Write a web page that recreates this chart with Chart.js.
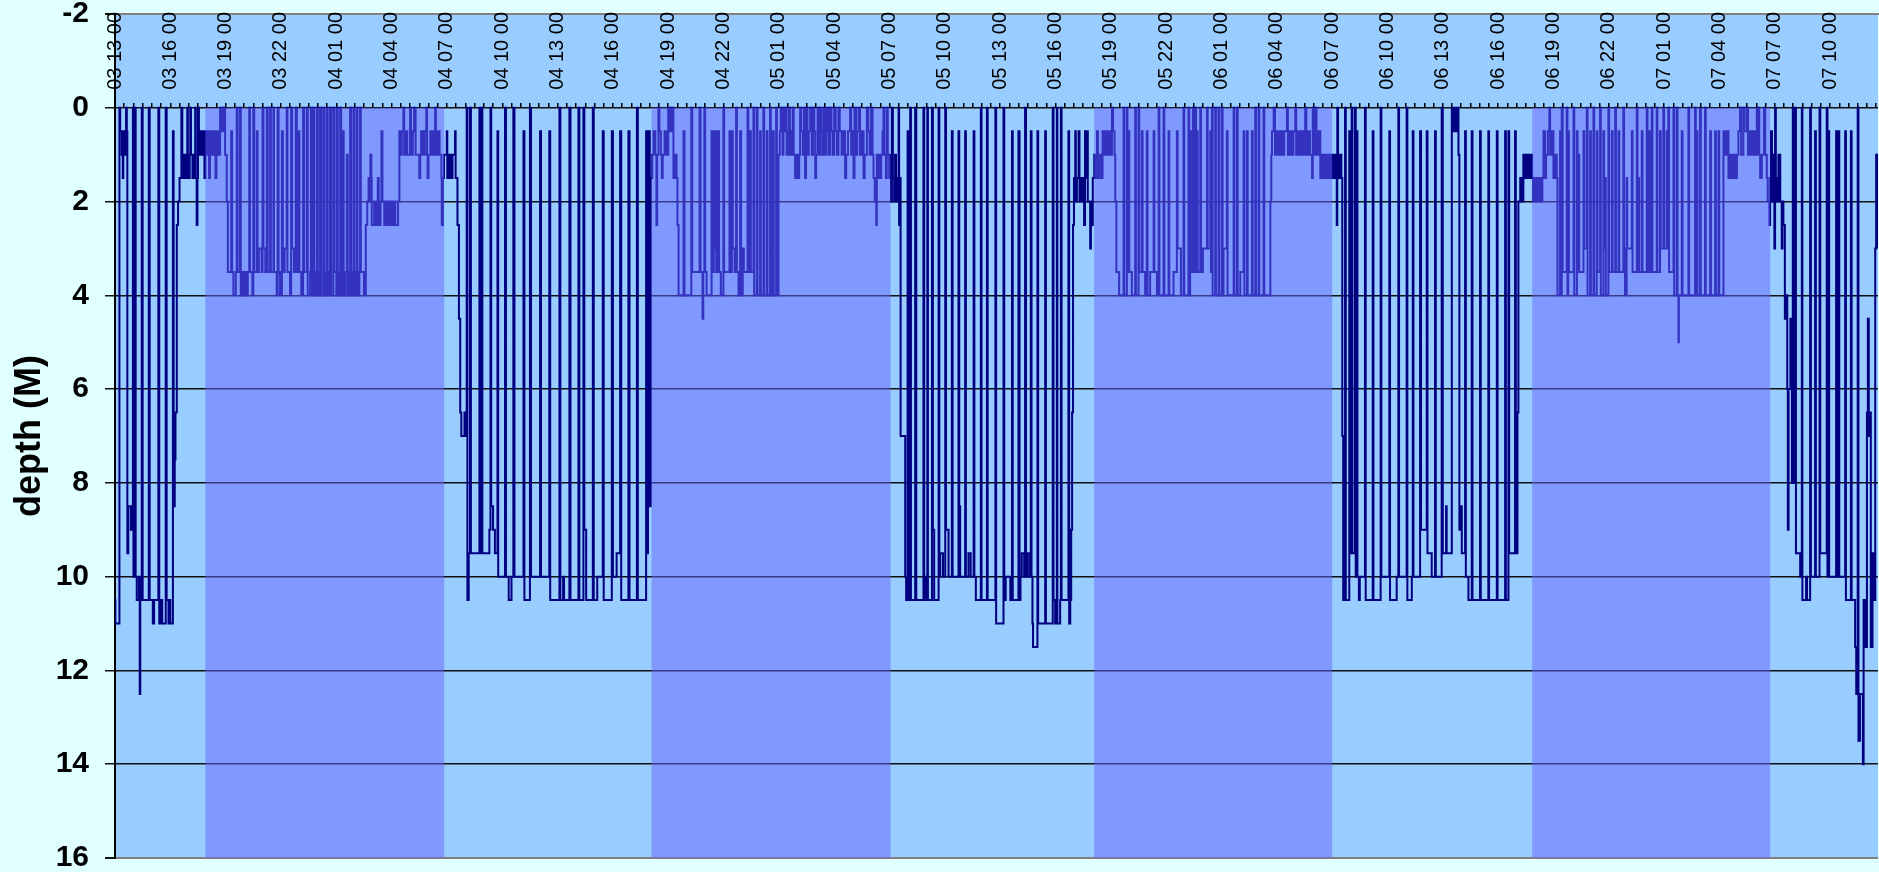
<!DOCTYPE html>
<html>
<head>
<meta charset="utf-8">
<title>depth profile</title>
<script src="https://cdn.jsdelivr.net/npm/chart.js@4/dist/chart.umd.min.js"></script>
<style>
  html, body { margin: 0; padding: 0; background: #e0ffff; overflow: hidden; }
  canvas { display: block; }
</style>
</head>
<body>
<canvas id="chart-depth" width="1879" height="872"></canvas>
<script>
// hours are counted from 03 13:00, depth in metres
const timeLabels = [
  '03 13 00', '03 16 00', '03 19 00', '03 22 00', '04 01 00', '04 04 00', '04 07 00', '04 10 00',
  '04 13 00', '04 16 00', '04 19 00', '04 22 00', '05 01 00', '05 04 00', '05 07 00', '05 10 00',
  '05 13 00', '05 16 00', '05 19 00', '05 22 00', '06 01 00', '06 04 00', '06 07 00', '06 10 00',
  '06 13 00', '06 16 00', '06 19 00', '06 22 00', '07 01 00', '07 04 00', '07 07 00', '07 10 00'
];
const depthTicks = [-2, 0, 2, 4, 6, 8, 10, 12, 14, 16];

// night shading (start / end hour)
const nightStart = [4.9, 29.1, 53.1, 76.85];
const nightEnd = [17.85, 42.05, 66.0, 89.75];

// ── depth records [hour, depth] ──
const day03 = [
  [0,10.5],[0.02,11],[0.24,0],[0.28,0.5],[0.36,1],[0.42,1.5],[0.45,0.5],[0.5,1],[0.56,0.5],[0.6,0],
  [0.64,0.5],[0.67,9.5],[0.72,8.5],[0.86,9],[0.92,8.5],[0.97,0],[1.0,10],[1.08,0],[1.12,10],[1.18,10.5],
  [1.3,10],[1.34,12.5],[1.37,10.5],[1.45,0],[1.5,10.5],[1.83,0],[1.88,10.5],[2.05,11],[2.12,10.5],[2.35,0],
  [2.4,11],[2.5,10.5],[2.56,11],[2.75,0],[2.8,10.5],[2.9,11],[2.95,10.5],[3.0,11],[3.14,0.5],[3.18,8.5],
  [3.24,7.5],[3.28,6.5],[3.35,2.5],[3.42,2],[3.5,1.5],[3.6,0],[3.65,1.5],[3.75,1],[3.85,1.5],[3.92,0],
  [3.95,1.5],[4.05,1],[4.08,0],[4.12,1],[4.2,1.5],[4.3,1],[4.35,0],[4.38,1.5],[4.43,2.5],[4.47,1.5],
  [4.5,0],[4.55,1],[4.62,0.5],[4.7,1],[4.8,0.5],[4.85,1.5]
];
const night0304 = [
  [4.9,0.5],[5.0,1],[5.05,0.5],[5.1,1.5],[5.15,0.5],[5.25,1],[5.35,0.5],[5.45,1.5],[5.5,0.5],[5.6,1],
  [5.7,0],[5.8,0.5],[5.88,0],[5.97,1],[6.06,2],[6.12,3.5],[6.3,0.5],[6.35,3.5],[6.42,4],[6.55,3.5],
  [6.6,0],[6.65,3.5],[6.78,0],[6.82,4],[6.9,3.5],[6.98,4],[7.05,3.5],[7.1,4],[7.2,3.5],[7.28,0],
  [7.32,3.5],[7.45,4],[7.5,0],[7.55,3.5],[7.69,0.5],[7.73,3.5],[7.8,3],[7.95,3.5],[8.0,0],[8.05,3],
  [8.15,3.5],[8.23,0],[8.28,3.5],[8.41,0],[8.45,3.5],[8.59,0],[8.62,3.5],[8.77,4],[8.82,0],[8.87,3.5],
  [8.95,4],[9.05,0.5],[9.1,3.5],[9.2,3],[9.31,0],[9.35,3.5],[9.49,4],[9.55,0],[9.6,3],[9.7,3.5],
  [9.8,0],[9.86,3.5],[9.95,0.5],[10.0,3.5],[10.1,4],[10.2,0],[10.25,3.5],[10.4,0],[10.45,4],[10.58,3.5],
  [10.62,0],[10.68,4],[10.76,0],[10.8,4],[10.9,3.5],[10.94,0],[11.0,4],[11.08,3.5],[11.12,0],[11.18,4],
  [11.3,0],[11.35,4],[11.45,3.5],[11.48,0],[11.53,4],[11.62,3.5],[11.66,0],[11.72,4],[11.84,0],[11.9,3.5],
  [12.0,4],[12.03,0],[12.08,4],[12.18,3.5],[12.21,0],[12.26,4],[12.35,0.5],[12.4,4],[12.5,3.5],[12.57,1],
  [12.62,4],[12.72,3.5],[12.75,0],[12.8,4],[12.9,3.5],[12.93,0],[12.98,4],[13.08,3.5],[13.11,0],[13.15,4],
  [13.25,3.5],[13.29,0],[13.33,3.5],[13.5,4],[13.6,2.5],[13.68,2],[13.75,1.5],[13.8,2],[13.85,1],[13.9,1.5],
  [13.92,2.5],[14.05,2],[14.1,2.5],[14.2,2],[14.25,1.5],[14.3,2.5],[14.4,2],[14.45,0.5],[14.5,2],[14.6,2.5],
  [14.7,2],[14.8,2.5],[14.9,2],[15.0,2.5],[15.1,2],[15.2,2.5],[15.35,2],[15.42,0.5],[15.5,1],[15.55,0.5],
  [15.64,0],[15.68,1],[15.75,0.5],[15.85,1],[16.0,0],[16.05,1],[16.15,0.5],[16.22,0],[16.3,1],[16.5,1.5],
  [16.55,1],[16.6,0.5],[16.7,1],[16.8,0.5],[16.88,0],[16.92,1],[16.95,1.5],[17.0,1],[17.1,0.5],[17.2,1],
  [17.3,0.5],[17.36,0],[17.4,1],[17.5,0.5],[17.6,1],[17.7,1.5],[17.72,2.5],[17.78,1.5]
];
const day04 = [
  [17.84,1],[17.99,0.5],[18.02,1.5],[18.1,1],[18.2,1.5],[18.3,1],[18.44,0.5],[18.47,1.5],[18.57,2.5],[18.65,4.5],
  [18.72,6.5],[18.78,7],[18.95,6.5],[19.0,7],[19.07,0],[19.11,10.5],[19.18,9.5],[19.25,0],[19.3,9.5],[19.76,0],
  [19.8,9.5],[19.86,0],[19.92,9.5],[20.3,9],[20.36,0],[20.4,8.5],[20.5,9],[20.6,9.5],[20.74,0.5],[20.78,10],
  [21.15,0],[21.2,10],[21.35,10.5],[21.5,10],[21.6,0],[21.66,10],[22.15,0.5],[22.2,10.5],[22.5,0],[22.56,10],
  [23.05,0.5],[23.1,10],[23.55,0.5],[23.6,10.5],[24.1,0],[24.15,10.5],[24.3,10],[24.35,10.5],[24.64,0],[24.7,10.5],
  [25.13,0],[25.18,10.5],[25.4,0],[25.45,9],[25.55,10.5],[25.91,0],[25.96,10.5],[26.15,10],[26.45,0.5],[26.5,10.5],
  [26.94,0.5],[27.0,10],[27.2,9.5],[27.39,0.5],[27.45,10.5],[27.84,0.5],[27.9,10.5],[28.3,0],[28.35,10.5],[28.8,0.5],
  [28.85,9.5],[28.9,3],[28.95,0.5],[29.0,8.5],[29.05,1.5]
];
const night0405 = [
  [29.13,1],[29.2,0.5],[29.3,1],[29.36,2.5],[29.4,1],[29.47,0],[29.52,0.5],[29.6,1],[29.65,1.5],[29.7,1],
  [29.8,0.5],[29.9,1],[30.0,0],[30.1,0.5],[30.2,0],[30.28,1.5],[30.35,1],[30.45,1.5],[30.5,2.5],[30.56,4],
  [30.83,0.5],[30.88,4],[31.25,0],[31.3,3.5],[31.7,0],[31.75,3.5],[31.86,4.5],[31.9,3.5],[31.96,0],[32.0,3.5],
  [32.08,4],[32.35,0.5],[32.4,3.5],[32.47,0.5],[32.52,3],[32.6,3.5],[32.63,0.5],[32.68,3.5],[32.72,0.5],[32.76,3.5],
  [32.85,4],[32.99,0],[33.03,3.5],[33.32,0.5],[33.36,3.5],[33.45,0.5],[33.5,3],[33.6,3.5],[33.68,0],[33.72,3.5],
  [33.81,4],[33.9,0.5],[33.95,4],[34.04,3],[34.1,3.5],[34.3,0],[34.34,3.5],[34.44,0.5],[34.48,3.5],[34.62,0],
  [34.66,4],[34.8,0],[34.84,4],[34.98,0.5],[35.02,4],[35.16,0],[35.2,4],[35.34,0.5],[35.38,4],[35.52,0],
  [35.56,4],[35.67,0.5],[35.72,4],[35.85,0],[35.89,4],[35.98,1],[36.05,0.5],[36.1,0],[36.15,0.5],[36.2,1],
  [36.25,0],[36.3,0.5],[36.35,0],[36.42,1],[36.5,0.5],[36.55,0],[36.6,1],[36.7,0.5],[36.75,0],[36.8,1],
  [36.88,1.5],[36.95,1],[37.0,1.5],[37.1,1],[37.15,0],[37.2,0.5],[37.3,1],[37.35,0],[37.42,1.5],[37.47,0.5],
  [37.51,0],[37.55,1],[37.62,0.5],[37.7,0],[37.78,1],[37.85,0],[37.92,0.5],[37.97,1.5],[38.02,1],[38.1,0],
  [38.15,1],[38.24,0],[38.3,0.5],[38.36,1],[38.42,0],[38.5,1],[38.55,0.5],[38.6,0],[38.68,1],[38.78,0],
  [38.85,0.5],[38.92,1],[39.0,0],[39.08,0.5],[39.15,1],[39.23,0],[39.3,0.5],[39.4,1],[39.5,0.5],[39.59,1.5],
  [39.65,1],[39.75,0.5],[39.86,0],[39.92,1],[40.0,0.5],[40.05,1.5],[40.1,0],[40.18,1],[40.25,0.5],[40.32,0],
  [40.4,1],[40.5,0.5],[40.59,1.5],[40.65,1],[40.77,0],[40.85,0.5],[40.92,1],[41.0,0],[41.08,1],[41.13,1.5],
  [41.2,2],[41.28,2.5],[41.31,1],[41.38,1.5],[41.45,1],[41.49,1.5],[41.55,1],[41.62,0.5],[41.67,0],[41.72,1],
  [41.8,1.5],[41.85,0],[41.9,1],[41.98,1.5]
];
const day05 = [
  [42.03,1],[42.08,2],[42.13,0],[42.18,1.5],[42.25,2],[42.3,1],[42.35,2],[42.42,1.5],[42.49,0],[42.52,2.5],
  [42.56,1.5],[42.6,7],[42.85,10],[42.9,10.5],[42.98,0.5],[43.02,10.5],[43.12,0],[43.16,10.5],[43.39,0],[43.45,10.5],
  [43.84,0],[43.88,10.5],[43.95,10],[44.0,10.5],[44.05,0],[44.08,10.5],[44.3,0],[44.35,9],[44.42,10.5],[44.66,0],
  [44.7,10],[44.75,9.5],[44.9,10],[45.02,0],[45.06,9],[45.2,10],[45.38,0.5],[45.42,10],[45.74,0.5],[45.78,8.5],
  [45.83,10],[46.1,0.5],[46.14,10],[46.28,9.5],[46.4,10],[46.56,0.5],[46.6,10],[46.68,10.5],[46.95,0],[46.99,10.5],
  [47.28,0],[47.32,10.5],[47.74,0],[47.78,11],[48.18,0],[48.22,10.5],[48.3,10],[48.55,10.5],[48.64,0.5],[48.68,10.5],
  [48.99,0.5],[49.05,10.5],[49.1,10],[49.17,9.5],[49.3,10],[49.35,0],[49.4,10],[49.5,9.5],[49.62,10],[49.66,0.5],
  [49.7,10],[49.75,11],[49.78,11.5],[50.02,0.5],[50.06,11],[50.44,0.5],[50.48,11],[50.85,0],[50.89,10.5],[50.98,11],
  [51.07,0],[51.1,11],[51.25,10.5],[51.29,0],[51.33,10.5],[51.7,0.5],[51.74,11],[51.8,10.5],[51.85,9],[51.9,6.5],
  [51.95,2.5],[52.0,1.5],[52.07,0.5],[52.1,2],[52.16,1.5],[52.25,0.5],[52.3,2],[52.4,1.5],[52.5,2],[52.55,2.5],
  [52.6,0.5],[52.65,1.5],[52.7,0.5],[52.75,2],[52.88,3],[52.92,2],[52.97,2.5],[53.02,1.5]
];
const night0506 = [
  [53.1,1],[53.15,1.5],[53.25,0.5],[53.3,1.5],[53.4,1],[53.51,1.5],[53.55,0.5],[53.65,1],[53.7,0.5],[53.8,1],
  [53.9,0.5],[54.0,1],[54.06,0],[54.12,0.5],[54.2,1],[54.24,2],[54.3,3.5],[54.45,4],[54.69,0],[54.73,4],
  [54.87,0],[54.9,3.5],[54.96,0.5],[55.0,3.5],[55.14,4],[55.32,0],[55.36,4],[55.5,0],[55.54,3.5],[55.68,0.5],
  [55.72,3.5],[55.86,4],[55.95,0.5],[55.99,4],[56.13,3.5],[56.32,0.5],[56.36,3.5],[56.5,4],[56.59,0],[56.63,4],
  [56.86,0],[56.9,4],[57.13,0.5],[57.17,4],[57.4,3.5],[57.58,0.5],[57.62,3],[57.8,4],[57.94,0],[57.98,4],
  [58.21,0],[58.25,4],[58.3,0.5],[58.34,3.5],[58.45,0],[58.49,3.5],[58.58,0],[58.62,3.5],[58.67,0.5],[58.71,3.5],
  [58.85,0],[58.89,3.5],[58.99,3],[59.21,0],[59.25,3],[59.39,0.5],[59.43,3.5],[59.48,0],[59.52,4],[59.66,0],
  [59.7,4],[59.84,0],[59.88,4],[60.02,0],[60.06,4],[60.11,3],[60.29,0.5],[60.33,4],[60.66,0],[60.7,4],
  [60.84,0],[60.88,4],[61.02,3.5],[61.2,0.5],[61.24,4],[61.38,0.5],[61.42,4],[61.65,0.5],[61.69,4],[61.83,0],
  [61.87,4],[62.01,0],[62.05,4],[62.28,0],[62.32,4],[62.65,2],[62.7,1],[62.74,0.5],[62.83,0],[62.9,1],
  [63.0,0.5],[63.1,1],[63.2,0.5],[63.3,1],[63.4,0.5],[63.55,0],[63.6,1],[63.7,0.5],[63.8,1],[63.9,0.5],
  [64.0,0],[64.05,1],[64.15,0.5],[64.25,1],[64.35,0.5],[64.45,1],[64.54,0],[64.6,1],[64.7,0.5],[64.8,1],
  [64.91,1.5],[64.95,0],[65.0,1],[65.09,0],[65.15,1],[65.25,0.5],[65.36,1.5],[65.45,1],[65.55,1.5],[65.65,1],
  [65.75,1.5],[65.85,1],[65.95,1.5]
];
const day06 = [
  [66.0,1],[66.1,1.5],[66.2,1],[66.25,2.5],[66.28,0],[66.32,1.5],[66.4,1],[66.5,1.5],[66.55,7],[66.6,10.5],
  [66.7,0],[66.74,10.5],[66.93,0.5],[66.97,9.5],[67.06,0],[67.1,9.5],[67.24,0],[67.28,10],[67.33,0.5],[67.37,10],
  [67.45,10.5],[67.5,10],[67.78,0],[67.82,10.5],[68.2,0.5],[68.24,10.5],[68.63,0],[68.67,10],[69.1,0.5],[69.14,10.5],
  [69.5,10],[69.59,0],[69.63,10],[70.04,0],[70.08,10.5],[70.32,10],[70.37,0.5],[70.41,10],[70.77,0.5],[70.82,9],
  [71.13,0.5],[71.17,9.5],[71.4,10],[71.58,0.5],[71.62,10],[71.94,0],[72.0,9.5],[72.18,8.5],[72.21,9.5],[72.49,0],
  [72.55,0.5],[72.6,0],[72.7,0.5],[72.8,0],[72.85,1],[72.9,9],[72.94,8.5],[73.03,9.5],[73.21,0.5],[73.25,10],
  [73.39,10.5],[73.57,0.5],[73.61,10.5],[74.02,0.5],[74.06,10.5],[74.47,0.5],[74.51,10.5],[74.93,0.5],[74.97,10.5],[75.38,0.5],
  [75.42,10.5],[75.56,0.5],[75.6,9.5],[75.92,0.5],[75.96,9.5],[76.05,6.5],[76.1,2],[76.2,1.5],[76.28,2],[76.37,1],
  [76.45,1.5],[76.55,1],[76.65,1.5],[76.75,1]
];
const night0607 = [
  [76.84,1.5],[76.9,2],[77.0,1.5],[77.1,2],[77.2,1.5],[77.3,2],[77.4,1.5],[77.46,0.5],[77.55,1.5],[77.6,1],
  [77.7,0.5],[77.78,0],[77.82,1],[77.9,0.5],[78.0,1.5],[78.1,1],[78.18,1.5],[78.22,4],[78.36,0.5],[78.4,4],
  [78.45,0],[78.5,3.5],[78.72,0],[78.76,4],[78.8,0.5],[78.84,3.5],[79.09,0],[79.13,4],[79.27,0.5],[79.31,3.5],
  [79.36,1],[79.4,3.5],[79.63,0.5],[79.67,3],[79.81,0],[79.85,4],[79.99,0.5],[80.03,4],[80.17,0],[80.21,4],
  [80.35,0.5],[80.39,3.5],[80.53,0],[80.57,4],[80.71,0.5],[80.75,3],[80.8,1.5],[80.84,4],[80.98,0],[81.02,3.5],
  [81.17,0.5],[81.21,3.5],[81.35,0],[81.39,3.5],[81.53,0.5],[81.57,3.5],[81.79,0],[81.83,3],[81.88,4],[81.97,1.5],
  [82.0,3],[82.25,0.5],[82.29,3.5],[82.52,0],[82.56,3.5],[82.61,1.5],[82.65,3.5],[82.79,0.5],[82.83,3.5],[83.06,0],
  [83.1,3.5],[83.2,0.5],[83.24,3.5],[83.33,0],[83.37,3.5],[83.6,0],[83.64,3.5],[83.78,0.5],[83.82,3],[83.96,0],
  [84.0,3],[84.14,0.5],[84.18,3],[84.23,0],[84.27,3.5],[84.51,0],[84.55,4],[84.69,0],[84.73,4],[84.78,5],
  [84.8,4],[84.96,0.5],[85.0,4],[85.32,0],[85.36,4],[85.68,0],[85.72,4],[85.77,0.5],[85.81,4],[85.95,0],
  [85.99,4],[86.22,0],[86.26,4],[86.5,0.5],[86.54,4],[86.77,0.5],[86.81,4],[86.95,0.5],[86.99,4],[87.22,0.5],
  [87.3,1],[87.4,0.5],[87.49,1.5],[87.55,1],[87.65,1.5],[87.75,1],[87.85,1.5],[87.95,1],[88.03,0.5],[88.12,0],
  [88.18,1],[88.3,0],[88.35,0.5],[88.48,0],[88.55,1],[88.65,0.5],[88.75,1],[88.85,0.5],[88.95,1],[89.03,0],
  [89.08,1],[89.12,0],[89.16,1],[89.21,1.5],[89.3,1],[89.42,0],[89.48,1],[89.57,1.5],[89.62,2],[89.71,2.5],
  [89.75,1.5]
];
const day07 = [
  [89.8,0.5],[89.85,2],[89.9,1],[89.98,3],[90.02,0],[90.06,1.5],[90.11,2],[90.2,1],[90.3,2],[90.38,3],
  [90.42,2],[90.47,2.5],[90.55,4.5],[90.62,4],[90.68,6],[90.71,9],[90.75,6],[90.85,4.5],[90.93,8],[90.98,0],
  [91.02,8],[91.11,0],[91.15,9.5],[91.38,10],[91.47,0],[91.5,10.5],[91.7,10],[91.75,10.5],[91.92,0],[91.96,10],
  [92.19,0.5],[92.23,10],[92.43,0],[92.47,9.5],[92.82,0],[92.86,10],[92.91,0.5],[92.95,10],[93.33,0.5],[93.37,10],
  [93.46,0.5],[93.5,10],[93.82,0.5],[93.86,10.5],[94.13,0.5],[94.17,10.5],[94.36,11.5],[94.42,12.5],[94.5,0],[94.54,13.5],
  [94.62,12.5],[94.78,14],[94.82,10.5],[94.9,11.5],[95.0,6.5],[95.05,4.5],[95.1,7],[95.18,6.5],[95.21,11.5],[95.3,9.5],
  [95.36,10.5],[95.45,3],[95.5,1],[95.6,3]
];

const hourMin = 0;
const hourMax = 95.6;

// ── datasets ──

const depthPoints = [...day03, ...night0304, ...day04, ...night0405, ...day05,
  ...night0506, ...day06, ...night0607, ...day07].map(([x, y]) => ({ x, y }));

const nightPoints = [{ x: hourMin, y: 0 }];
nightStart.forEach((s, i) => {
  nightPoints.push({ x: s, y: 16 });
  nightPoints.push({ x: nightEnd[i], y: 0 });
});
nightPoints.push({ x: hourMax, y: 0 });

const plotBackground = {
  id: 'plotBackground',
  beforeDraw(chart) {
    const { ctx, chartArea: a } = chart;
    ctx.save();
    ctx.fillStyle = '#99ccff';
    ctx.fillRect(a.left, a.top, a.right - a.left, a.bottom - a.top);
    ctx.restore();
  }
};

const FONT = "'Liberation Sans', Arial, sans-serif";

new Chart(document.getElementById('chart-depth'), {
  type: 'line',
  data: {
    datasets: [
      {
        // drawn last, sits over the trace like the original
        label: 'night',
        data: nightPoints,
        stepped: true,
        fill: 'origin',
        backgroundColor: 'rgba(102,102,255,0.5)',
        borderColor: 'rgba(0,0,0,0)',
        borderWidth: 1,
        pointRadius: 0,
      },
      {
        label: 'depth',
        data: depthPoints,
        stepped: true,
        fill: false,
        borderColor: '#000080',
        borderWidth: 2,
        pointRadius: 0,
      },
    ],
  },
  options: {
    responsive: false,
    animation: false,
    devicePixelRatio: 1,
    events: [],
    layout: { padding: { top: 14, bottom: 14, left: 0, right: 1 } },
    plugins: { legend: { display: false }, tooltip: { enabled: false } },
    scales: {
      x: {
        type: 'linear',
        position: { y: -2 },
        min: hourMin,
        max: hourMax,
        grid: { display: false, drawTicks: false },
        border: { display: true, color: '#808080', width: 2 },
        ticks: {
          stepSize: 3,
          includeBounds: false,
          autoSkip: false,
          minRotation: 90,
          maxRotation: 90,
          padding: -2,
          color: '#000',
          font: { family: FONT, size: 20 },
          callback: (v) => timeLabels[Math.round(v / 3)] || '',
        },
      },
      xMinor: {
        type: 'linear',
        position: { y: 0 },
        min: hourMin,
        max: hourMax,
        grid: { drawOnChartArea: false, drawTicks: true, tickLength: -5, color: '#000', lineWidth: 1.5 },
        border: { display: false },
        ticks: { stepSize: 0.5, includeBounds: false, autoSkip: false, display: false },
      },
      y: {
        type: 'linear',
        reverse: true,
        min: depthTicks[0],
        max: depthTicks[depthTicks.length - 1],
        afterFit: (s) => {
          s.width = 115;
          // the -2 / 16 labels may run into the page margin
          s.paddingTop = 0;
          s.paddingBottom = 0;
        },
        afterBuildTicks: (s) => { s.ticks = depthTicks.map((v) => ({ value: v })); },
        grid: {
          color: (c) => (c.tick && (c.tick.value === -2 || c.tick.value === 16) ? '#808080' : '#111'),
          lineWidth: (c) => (c.tick && (c.tick.value === -2 || c.tick.value === 16) ? 2 : 1.5),
          tickColor: '#111',
          tickLength: 10,
        },
        border: { display: true, color: '#000', width: 2 },
        ticks: {
          padding: 16,
          color: '#000',
          font: { family: FONT, size: 30, weight: 'bold', lineHeight: 0.9 },
        },
        title: {
          display: true,
          text: 'depth (M)',
          color: '#000',
          padding: { top: 8, bottom: 0 },
          font: { family: FONT, size: 36, weight: 'bold' },
        },
      },
    },
  },
  plugins: [plotBackground],
});
</script>
</body>
</html>
